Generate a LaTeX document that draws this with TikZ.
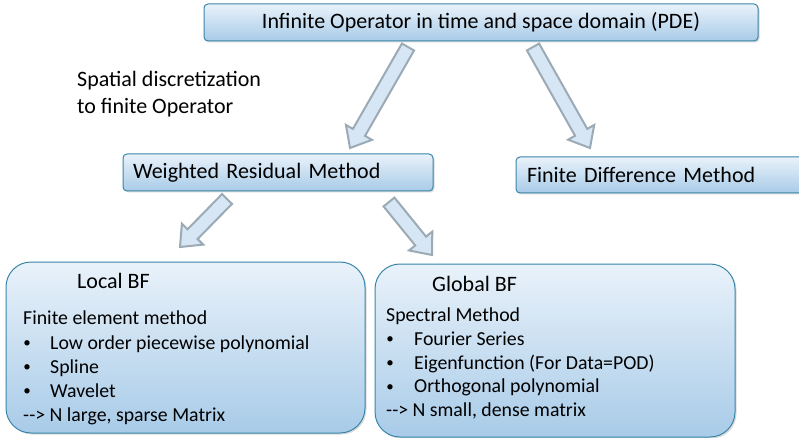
\documentclass[tikz,border=0pt]{standalone}
\usepackage{fontspec}
\setmainfont{Carlito}
\usetikzlibrary{calc,shadows}

\definecolor{boxtop}{RGB}{233,242,250}
\definecolor{boxbot}{RGB}{168,203,232}
\definecolor{boxline}{RGB}{58,134,170}
\definecolor{arrowfill}{RGB}{214,230,244}
\definecolor{arrowline}{RGB}{155,170,180}

\tikzset{
  box/.style={draw=boxline, line width=1pt, top color=boxtop, bottom color=boxbot,
    rounded corners=4pt, inner sep=0pt,
    drop shadow={shadow xshift=1.5pt, shadow yshift=-1.5pt, opacity=0.3}},
  bigbox/.style={box, rounded corners=25pt},
  title/.style={font=\fontsize{22}{27}\selectfont},
  body/.style={font=\fontsize{19.8}{24}\selectfont, anchor=base west, inner sep=0pt},
  dot/.style={font=\fontsize{15}{15}\selectfont, anchor=center, inner sep=0pt},
  barrow/.style={draw=arrowline, fill=arrowfill, line width=2pt, line join=miter},
}

\begin{document}
\begin{tikzpicture}[x=1pt, y=-1pt]
% Constants
\def\shaftW{7pt} % half width of the arrow shaft
\def\headW{15pt} % half width of the arrow head
\def\headLen{18pt} % length of the arrow head
\def\lineSkip{24} % vertical spacing between list lines

\clip (0,0) rectangle (799,438);

% Boxes
\node[box, title, minimum width=554pt, minimum height=37pt] (pde) at (481,22.5) {Infinite Operator in time and space domain (PDE)};
\node[box, title, text width=290pt, inner xsep=10pt, align=left, minimum height=37pt] (wrm) at (278,172.5) {Weighted Residual Method};
\node[box, title, text width=290pt, inner xsep=11pt, align=left, minimum height=36pt] (fdm) at (672,175) {Finite Difference Method};
\node[bigbox, minimum width=359pt, minimum height=171pt] (local) at (185.5,347.5) {};
\node[bigbox, minimum width=360pt, minimum height=173pt] (global) at (555,350.5) {};

% Side note (base anchor sits on the last line)
\node[title, anchor=base west, align=left, inner sep=0pt] (spatial) at (77,114) {Spatial discretization\\to finite Operator};

% Local basis functions
\node[title, anchor=base west, inner sep=0pt] (local-title) at (77,288) {Local BF};
\node[body] (local-head) at (23,324) {Finite element method};
\foreach \txt [count=\i] in {Low order piecewise polynomial, Spline, Wavelet} {
    \pgfmathsetmacro\y{349 + (\i-1)*\lineSkip}
    \node[dot] (local-dot-\i) at (27,\y-5.3) {\textbullet};
    \node[body] (local-item-\i) at (50,\y) {\txt};
}
\node[body] (local-foot) at (23,421) {-{}-> N large, sparse Matrix};

% Global basis functions
\node[title, anchor=base west, inner sep=0pt] (global-title) at (432,291) {Global BF};
\node[body] (global-head) at (386,321.5) {Spectral Method};
\foreach \txt [count=\i] in {Fourier Series, Eigenfunction (For Data=POD), Orthogonal polynomial} {
    \pgfmathsetmacro\y{345.5 + (\i-1)*23.7}
    \node[dot] (global-dot-\i) at (390,\y-5.3) {\textbullet};
    \node[body] (global-item-\i) at (414,\y) {\txt};
}
\node[body] (global-foot) at (386,416.5) {-{}-> N small, dense matrix};

% Arrow ends
\coordinate (pde-wrm-s) at (408,47);
\coordinate (pde-wrm-e) at (350,148);
\coordinate (pde-fdm-s) at (533,47);
\coordinate (pde-fdm-e) at (590,148);
\coordinate (wrm-local-s) at (227,199);
\coordinate (wrm-local-e) at (180,247);
\coordinate (wrm-global-s) at (389,202);
\coordinate (wrm-global-e) at (432,255);

% Block arrows
\foreach \from/\to in {pde-wrm-s/pde-wrm-e, pde-fdm-s/pde-fdm-e, wrm-local-s/wrm-local-e, wrm-global-s/wrm-global-e} {
    \coordinate (h) at ($(\to)!\headLen!(\from)$);
    \draw[barrow] ($(\from)!\shaftW!90:(\to)$) -- ($(h)!\shaftW!90:(\to)$) -- ($(h)!\headW!90:(\to)$)
        -- (\to) -- ($(h)!\headW!-90:(\to)$) -- ($(h)!\shaftW!-90:(\to)$) -- ($(\from)!\shaftW!-90:(\to)$) -- cycle;
}

\end{tikzpicture}
\end{document}
